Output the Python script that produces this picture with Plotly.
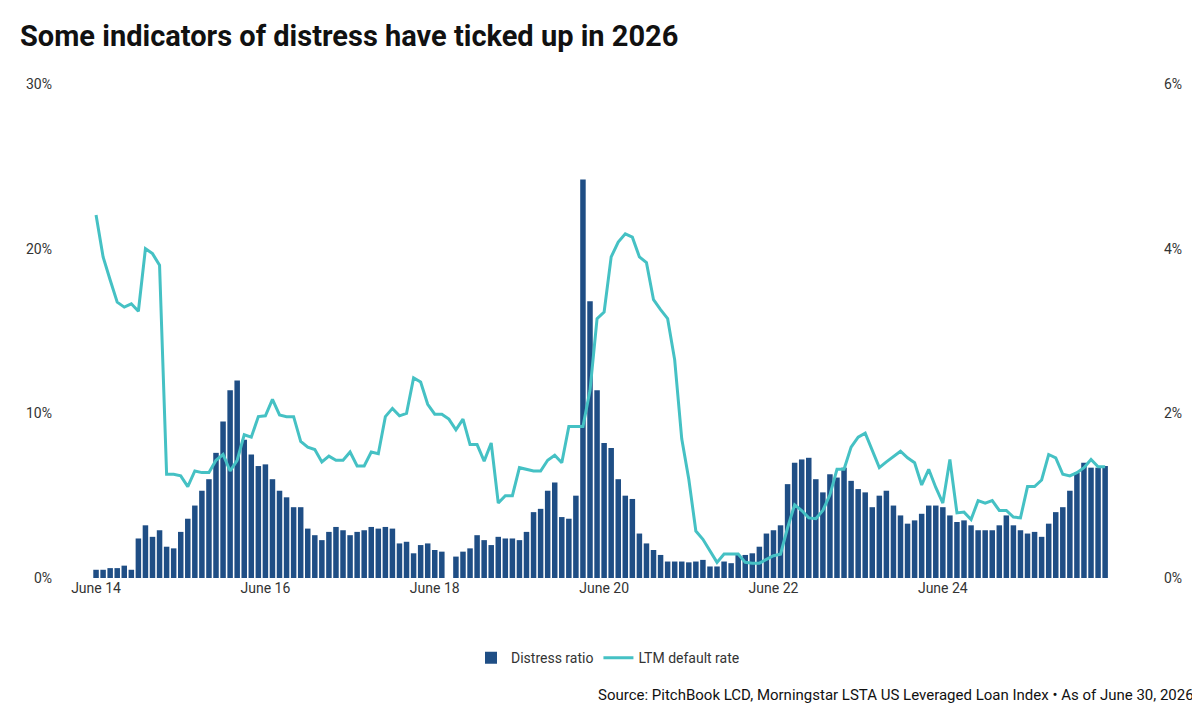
import plotly.graph_objects as go

# monthly, June 2014 .. June 2026 (145 months); None = no data
distress_ratio = [
    0.5, 0.5, 0.6, 0.6, 0.75, 0.5,
    2.4, 3.2, 2.5, 2.9, 1.9, 1.8,
    2.8, 3.6, 4.4, 5.3, 6.0, 7.6, 9.5, 11.4, 12.0,
    8.4, 7.5, 6.8, 6.9, 6.0, 5.3, 4.9, 4.3, 4.3, 3.0, 2.6, 2.3,
    2.8, 3.1, 2.9, 2.6, 2.8, 2.9, 3.1, 3.0, 3.1, 3.0, 2.1, 2.2, 1.5, 2.0, 2.1, 1.7, 1.6,
    None,
    1.3, 1.6, 1.8, 2.6, 2.3, 2.0, 2.5, 2.4, 2.4, 2.3,
    2.8, 4.0, 4.2, 5.3, 5.8, 3.7, 3.6, 5.0,
    24.2, 16.8, 11.4, 8.2, 7.9, 6.0, 5.0, 4.8, 2.7, 2.1,
    1.7, 1.4, 1.0, 1.0, 1.0, 0.95, 1.0, 1.1, 0.7,
    0.7, 1.0, 0.9, 1.4, 1.4, 1.5, 1.9,
    2.7, 2.9, 3.2, 5.7, 7.0, 7.2, 7.3, 6.0, 5.2, 6.3, 6.1, 6.7, 5.9, 5.4, 5.2, 4.3,
    5.0, 5.3, 4.4, 3.8, 3.3, 3.5, 3.9, 4.4, 4.4, 4.3, 3.8, 3.4, 3.5, 3.2, 2.9, 2.9,
    2.9, 3.2, 3.8, 3.2, 2.9, 2.7, 2.8, 2.5, 3.3, 4.0, 4.3, 5.3, 6.4, 7.0, 6.7, 6.7, 6.8,
]

ltm_default_rate = [
    4.41, 3.90, 3.62, 3.35, 3.29, 3.33, 3.24, 4.00, 3.94, 3.80,
    1.26, 1.26, 1.24, 1.11, 1.30, 1.28, 1.28, 1.43, 1.50, 1.30,
    1.43, 1.74, 1.71, 1.96, 1.97, 2.17, 1.98, 1.96, 1.96, 1.66,
    1.59, 1.56, 1.41, 1.48, 1.43, 1.43, 1.53, 1.36, 1.36, 1.53,
    1.51, 1.96, 2.06, 1.97, 2.00, 2.43, 2.38, 2.11, 1.99, 1.99,
    1.93, 1.80, 1.93, 1.62, 1.62, 1.42, 1.64, 0.91, 1.00, 1.00,
    1.34, 1.32, 1.30, 1.30, 1.43, 1.49, 1.40, 1.84, 1.84, 1.84,
    2.28, 3.15, 3.23, 3.90, 4.08, 4.18, 4.14, 3.90, 3.83, 3.38,
    3.26, 3.15, 2.65, 1.69, 1.20, 0.57, 0.47, 0.33, 0.19, 0.29,
    0.29, 0.29, 0.19, 0.18, 0.18, 0.23, 0.27, 0.29, 0.61, 0.89,
    0.82, 0.73, 0.72, 0.82, 1.01, 1.32, 1.32, 1.59, 1.71, 1.76,
    1.55, 1.34, 1.41, 1.48, 1.54, 1.46, 1.40, 1.13, 1.32, 1.10,
    0.91, 1.44, 0.79, 0.80, 0.71, 0.94, 0.91, 0.94, 0.82, 0.82,
    0.74, 0.73, 1.11, 1.11, 1.19, 1.50, 1.46, 1.26, 1.24, 1.28,
    1.34, 1.44, 1.35, 1.35, 1.00,
]

tick_labels = ["June 14", "June 16", "June 18", "June 20", "June 22", "June 24", "June 26"]

months = list(range(len(distress_ratio)))
tick_pos = list(range(0, len(distress_ratio), 24))

font = "Roboto, Arial, sans-serif"

fig = go.Figure()
fig.add_trace(go.Bar(
    x=months, y=distress_ratio, name="Distress ratio",
    marker=dict(color="#1f4e85", line=dict(width=0)),
))
fig.add_trace(go.Scatter(
    x=months, y=ltm_default_rate, name="LTM default rate", yaxis="y2",
    mode="lines", line=dict(color="#45c1c4", width=3),
))

fig.update_layout(
    width=1200, height=706,
    paper_bgcolor="white", plot_bgcolor="white",
    font=dict(family=font, size=14, color="#333"),
    margin=dict(l=45, r=45, t=76, b=136),
    bargap=0.22,
    title=dict(
        text="<b>Some indicators of distress have ticked up in 2026</b>",
        font=dict(size=29, color="#111"), x=0.01, xanchor="left", y=0.975, yanchor="top",
    ),
    xaxis=dict(
        range=[-6.1, 151.2], tickvals=tick_pos, ticktext=tick_labels,
        showgrid=False, zeroline=False, showline=False, ticks="",
        tickfont=dict(size=14, color="#333"),
    ),
    yaxis=dict(
        range=[0, 30], tickvals=[0, 10, 20, 30], ticktext=["0%", "10%", "20%", "30%"],
        showgrid=False, zeroline=False, tickfont=dict(size=14, color="#333"),
    ),
    yaxis2=dict(
        range=[0, 6], tickvals=[0, 2, 4, 6], ticktext=["0%", "2%", "4%", "6%"],
        overlaying="y", side="right", showgrid=False, zeroline=False,
        tickfont=dict(size=14, color="#333"),
    ),
    legend=dict(
        orientation="h", x=0.5, xanchor="center", y=-0.13, yanchor="top",
        font=dict(size=14, color="#333"),
    ),
    annotations=[dict(
        text="Source: PitchBook LCD, Morningstar LSTA US Leveraged Loan Index • As of June 30, 2026",
        xref="paper", yref="paper", x=1.03, y=-0.215, xanchor="right", yanchor="top",
        showarrow=False, font=dict(size=15, color="#111"),
    )],
)

fig.write_html("out.html")
